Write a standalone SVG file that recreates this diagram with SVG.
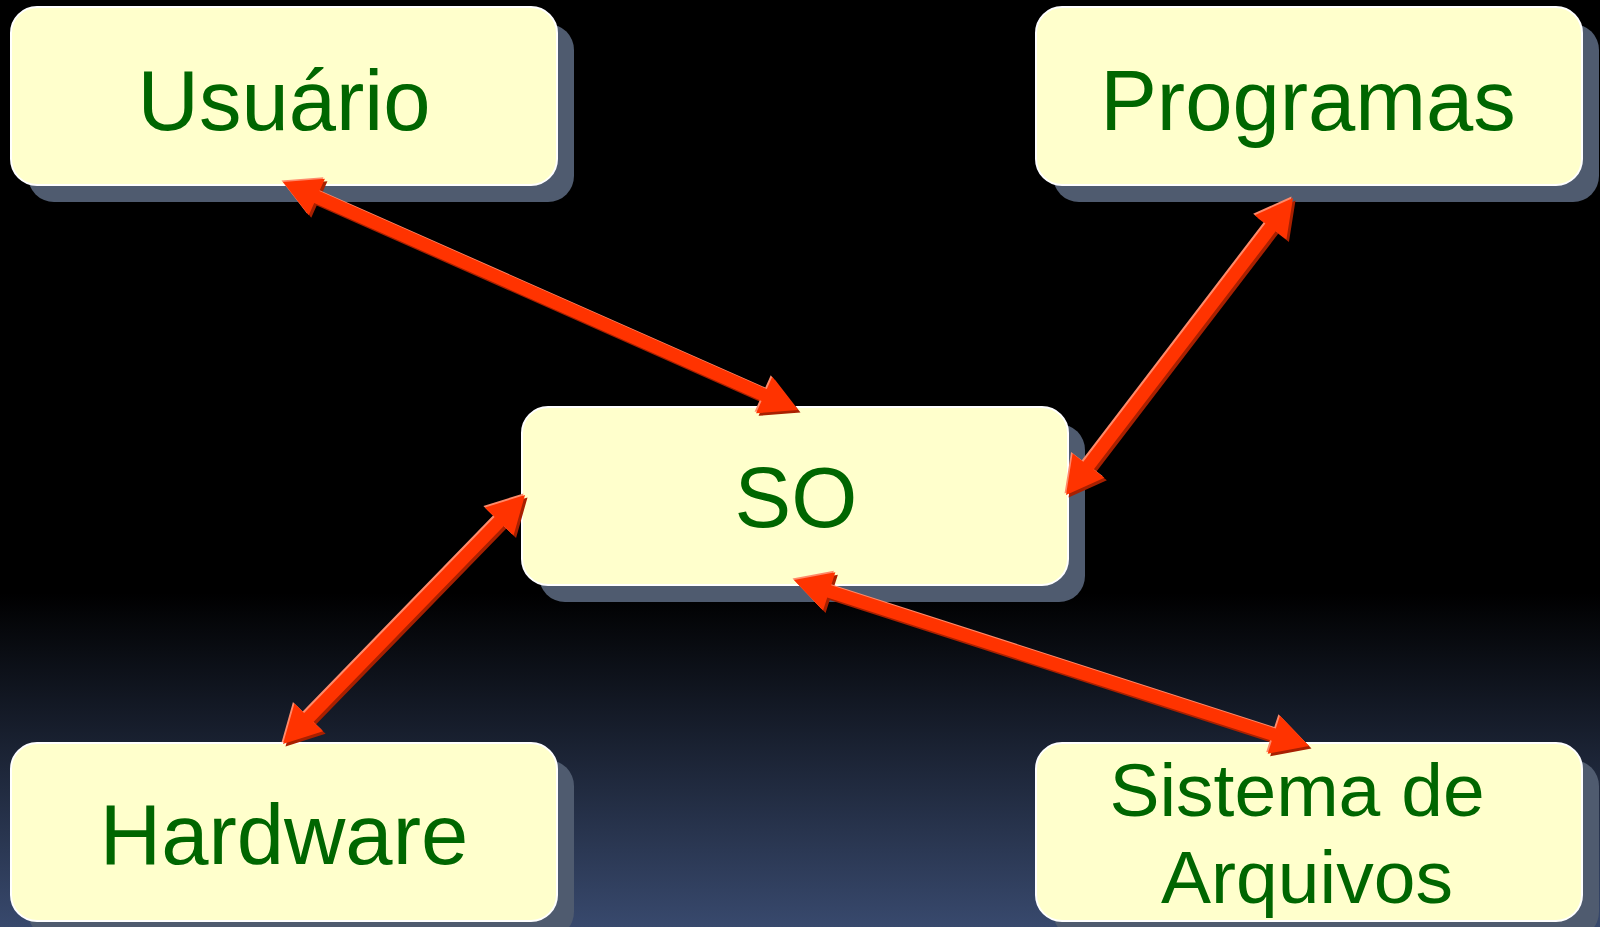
<svg xmlns="http://www.w3.org/2000/svg" xmlns:xlink="http://www.w3.org/1999/xlink" width="1600" height="927" viewBox="0 0 1600 927">
<style>
.shadow{fill:#4f5b6f}
.box{fill:#ffffcc;stroke:#ffffff;stroke-width:2}
.lbl{font-family:"Liberation Sans",Arial,sans-serif;font-size:85px;fill:#006600;text-anchor:middle}
.sm{font-size:75px}
.adark{fill:#a82000}
.alight{fill:#ff8a6a}
.amain{fill:#ff3300}
</style>
<defs>
<linearGradient id="bg" x1="0" y1="0" x2="0" y2="1">
<stop offset="0" stop-color="#000000"/>
<stop offset="0.64" stop-color="#000000"/>
<stop offset="1" stop-color="#38496d"/>
</linearGradient>
<path id="a1" transform="translate(283,182) rotate(23.88)" d="M0,0 L37,-20 L37,-6.5 L526.2,-6.5 L526.2,-20 L563.2,0 L526.2,20 L526.2,6.5 L37,6.5 L37,20 Z"/>
<path id="a2" transform="translate(1293,198) rotate(127.39)" d="M0,0 L37,-20 L37,-6.5 L336.8,-6.5 L336.8,-20 L373.8,0 L336.8,20 L336.8,6.5 L37,6.5 L37,20 Z"/>
<path id="a3" transform="translate(525,495) rotate(134.19)" d="M0,0 L37,-20 L37,-6.5 L310.2,-6.5 L310.2,-20 L347.2,0 L310.2,20 L310.2,6.5 L37,6.5 L37,20 Z"/>
<path id="a4" transform="translate(794,580) rotate(17.87)" d="M0,0 L37,-20 L37,-6.5 L504.1,-6.5 L504.1,-20 L541.1,0 L504.1,20 L504.1,6.5 L37,6.5 L37,20 Z"/>
</defs>
<rect x="0" y="0" width="1600" height="927" fill="url(#bg)"/>

<g id="usuario">
<rect class="shadow" x="28" y="24" width="546" height="178" rx="26"/>
<rect class="box" x="11" y="7" width="546" height="178" rx="26"/>
<text class="lbl" x="284" y="130">Usuário</text>
</g>

<g id="programas">
<rect class="shadow" x="1053" y="24" width="546" height="178" rx="26"/>
<rect class="box" x="1036" y="7" width="546" height="178" rx="26"/>
<text class="lbl" x="1308" y="130">Programas</text>
</g>

<g id="so">
<rect class="shadow" x="539" y="424" width="546" height="178" rx="26"/>
<rect class="box" x="522" y="407" width="546" height="178" rx="26"/>
<text class="lbl" x="796" y="527">SO</text>
</g>

<g id="hardware">
<rect class="shadow" x="28" y="760" width="546" height="178" rx="26"/>
<rect class="box" x="11" y="743" width="546" height="178" rx="26"/>
<text class="lbl" x="284" y="864">Hardware</text>
</g>

<g id="sistema">
<rect class="shadow" x="1053" y="760" width="546" height="178" rx="26"/>
<rect class="box" x="1036" y="743" width="546" height="178" rx="26"/>
<text class="lbl sm" x="1297" y="816">Sistema de</text>
<text class="lbl sm" x="1307" y="903">Arquivos</text>
</g>

<g id="connectors">
<use xlink:href="#a1" class="adark" transform="translate(2.5,2.5)"/>
<use xlink:href="#a1" class="alight" transform="translate(-1.5,-1.5)"/>
<use xlink:href="#a1" class="amain"/>
<use xlink:href="#a2" class="adark" transform="translate(2.5,2.5)"/>
<use xlink:href="#a2" class="alight" transform="translate(-1.5,-1.5)"/>
<use xlink:href="#a2" class="amain"/>
<use xlink:href="#a3" class="adark" transform="translate(2.5,2.5)"/>
<use xlink:href="#a3" class="alight" transform="translate(-1.5,-1.5)"/>
<use xlink:href="#a3" class="amain"/>
<use xlink:href="#a4" class="adark" transform="translate(2.5,2.5)"/>
<use xlink:href="#a4" class="alight" transform="translate(-1.5,-1.5)"/>
<use xlink:href="#a4" class="amain"/>
</g>
</svg>
